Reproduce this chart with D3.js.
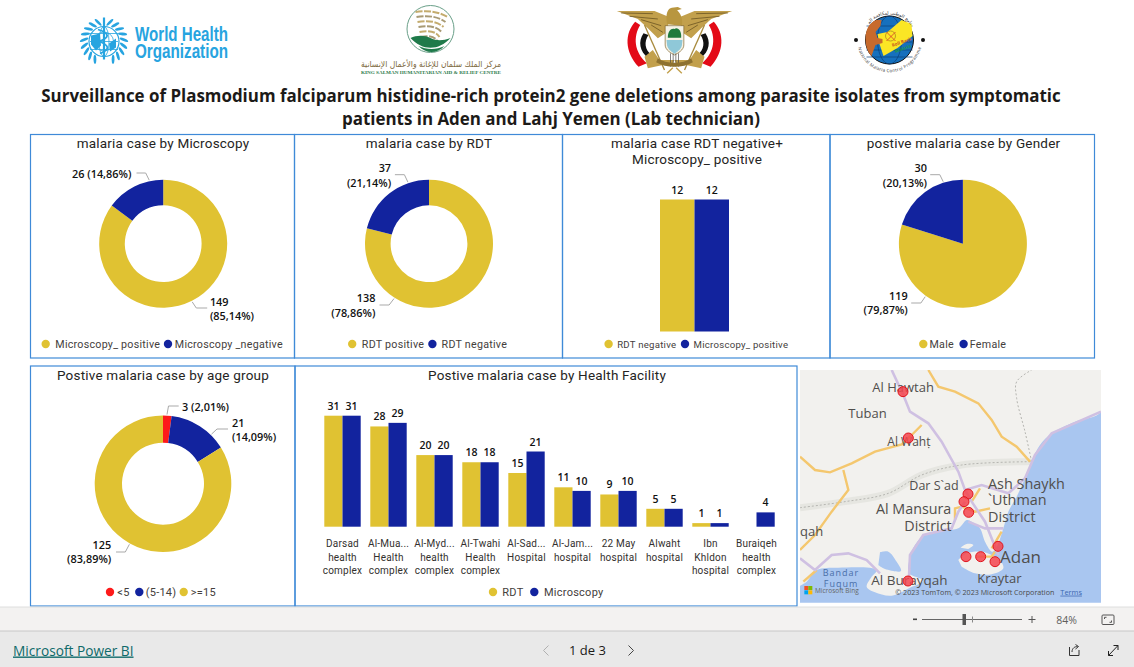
<!DOCTYPE html>
<html>
<head>
<meta charset="utf-8">
<title>Malaria dashboard</title>
<script src="https://d3js.org/d3.v7.min.js"></script>
<style>
html, body { margin: 0; padding: 0; background: #fff; overflow: hidden; }
svg { display: block; }
</style>
</head>
<body>
<svg id="report"></svg>
<script>
// values
var microscopyNames = ["Microscopy_ positive", "Microscopy _negative"];
var microscopyValues = [149, 26];
var rdtNames = ["RDT positive", "RDT negative"];
var rdtValues = [138, 37];
var discordNames = ["RDT negative", "Microscopy_ positive"];
var discordValues = [12, 12];
var genderNames = ["Male", "Female"];
var genderValues = [119, 30];
var ageNames = ["<5", "(5-14)", ">=15"];
var ageValues = [3, 21, 125];

var facilityNames = [
	["Darsad", "health", "complex"],
	["Al-Mua...", "Health", "complex"],
	["Al-Myd...", "health", "complex"],
	["Al-Twahi", "Health", "complex"],
	["Al-Sad...", "Hospital"],
	["Al-Jam...", "hospital"],
	["22 May", "hospital"],
	["Alwaht", "hospital"],
	["Ibn", "Khldon", "hospital"],
	["Buraiqeh", "health", "complex"]
];
var facilityRdt = [31, 28, 20, 18, 15, 11, 9, 5, 1, null];
var facilityMicroscopy = [31, 29, 20, 18, 21, 10, 10, 5, 1, 4];

// map features, in a 930 x 735 grid
var mapPointX = [324, 340, 519, 507, 521, 609, 513, 557, 600, 339];
var mapPointY = [80, 219, 387, 410, 442, 544, 575, 575, 590, 648];
var mapLabels = ["Al Hawtah", "Tuban", "Al Wahṭ", "Dar S`ad", "Ash Shaykh", "`Uthman", "District", "Al Mansura", "District", "qah", "Adan", "Kraytar", "Al Burayqah"];
var mapLabelX = [232, 160, 277, 343, 579, 579, 579, 243, 328, 15, 615, 547, 229];
var mapLabelY = [82, 159, 242, 376, 371, 421, 472, 446, 497, 512, 593, 654, 660];
var mapLabelSize = [13, 13, 12, 12.5, 14.4, 14.4, 14.4, 14.3, 14.3, 13, 17, 13, 13.5];

var mainland = [[15,15],[918,15],[918,140],[840,170],[770,205],[735,240],[710,290],[690,340],[665,395],[640,440],[625,490],[608,540],[592,560],[570,530],[555,490],[530,470],[515,465],[490,490],[430,497],[385,512],[355,548],[342,590],[342,625],[385,647],[345,668],[290,692],[240,682],[215,665],[228,638],[245,615],[130,608],[65,615],[35,650],[15,662]];
var saltPan = [[255,562],[280,560],[305,590],[318,618],[270,612],[250,600]];
var adenLand = [[490,585],[515,565],[560,560],[590,570],[615,585],[625,610],[590,628],[540,625],[500,605]];
var islet = [[497,548],[515,537],[535,540],[520,552]];
var yellowRoads = [
	[[400,15],[430,65],[480,80],[550,115],[590,165],[620,215],[665,245],[705,290]],
	[[15,275],[60,315],[105,322],[170,295],[240,260],[320,238],[350,210],[380,180]],
	[[145,315],[160,375],[110,440],[60,510],[15,555]],
	[[25,650],[65,615]],
	[[480,465],[480,430],[500,425],[540,440],[585,430]],
	[[530,410],[555,370]],
	[[590,550],[620,500]],
	[[545,575],[590,575],[600,560]]
];
var purpleRoads = [
	[[290,15],[325,90],[345,140],[400,175],[440,230],[490,320],[510,375],[530,410],[570,470],[610,570]],
	[[510,375],[560,360],[640,385],[690,340],[720,270],[770,205],[918,140]],
	[[15,580],[60,615],[110,570],[160,565],[215,585],[255,625]],
	[[342,635],[345,570],[385,510],[470,490],[490,440],[510,410]],
	[[520,470],[570,490],[625,490]]
];
var borderBand = [[15,428],[150,410],[280,385],[380,330],[500,300],[710,290]];
var borderNorth = [[710,290],[690,200],[665,100],[665,50],[710,15]];

var gold = "#e0c232";
var blue = "#12239e";
var red = "#fd1a1a";
var frame = "#3f8ad8";
var darkText = "#252423";
var titleFont = "Roboto, sans-serif";
var labelFont = "'Open Sans', sans-serif";

var svg = d3.select("#report").attr("width", 1134).attr("height", 667);
svg.append("rect").attr("width", 1134).attr("height", 667).attr("fill", "#fff");

function pctLabel(v, total) {
	return d3.format(".2f")(v / total * 100).replace(".", ",") + "%";
}

function addTitle(lines, cx, y) {
	lines.forEach(function(t, i) {
		svg.append("text").text(t)
			.attr("x", cx).attr("y", y + i * 16)
			.attr("text-anchor", "middle")
			.attr("font-family", titleFont)
			.attr("font-size", "13.5px")
			.attr("letter-spacing", "0.2px")
			.attr("fill", darkText);
	});
}

function addLegend(names, colors, dotX, textX, y, size) {
	names.forEach(function(n, i) {
		svg.append("circle").attr("cx", dotX[i]).attr("cy", y).attr("r", 4.2).attr("fill", colors[i]);
		svg.append("text").text(n)
			.attr("x", textX[i]).attr("y", y + 4)
			.attr("font-family", titleFont)
			.attr("font-size", (size || 10.7) + "px")
			.attr("letter-spacing", "0.25px")
			.attr("fill", "#44403c");
	});
}

function addPanel(x0, y0, x1, y1) {
	svg.append("rect").attr("x", x0).attr("y", y0)
		.attr("width", x1 - x0).attr("height", y1 - y0)
		.attr("fill", "none").attr("stroke", frame).attr("stroke-width", 1.2);
}

// label: {angle, elbow, end, x, ys, anchor}
function addDonut(values, colors, cx, cy, outer, inner, labels) {
	var total = d3.sum(values);
	var pie = d3.pie().sort(null);
	var arc = d3.arc().innerRadius(inner).outerRadius(outer);
	var g = svg.append("g").attr("transform", "translate(" + cx + "," + cy + ")");
	g.selectAll("path").data(pie(values)).enter().append("path")
		.attr("d", arc)
		.attr("fill", function(d, i) { return colors[i]; });

	values.forEach(function(v, i) {
		var l = labels[i];
		var p = d3.pointRadial(l.angle * Math.PI / 180, outer + 1);
		var pts = [[cx + p[0], cy + p[1]], l.elbow, l.end];
		svg.append("path").attr("d", d3.line()(pts))
			.attr("fill", "none").attr("stroke", "#a9a9a9").attr("stroke-width", 1);
		var pct = "(" + pctLabel(v, total) + ")";
		var lines = l.ys.length > 1 ? [String(v), pct] : [v + " " + pct];
		lines.forEach(function(t, k) {
			svg.append("text").text(t)
				.attr("x", l.x).attr("y", l.ys[k])
				.attr("text-anchor", l.anchor)
				.attr("font-family", labelFont)
				.attr("font-size", "10.9px")
				.attr("font-weight", 600)
				.attr("fill", "#111");
		});
	});
}

// header logos, plain vector stand-ins for the bitmaps
function drawWho() {
	var c = "#27a4e0";
	var g = svg.append("g").attr("transform", "translate(104,41.5)");
	g.append("circle").attr("r", 15).attr("fill", "none").attr("stroke", c).attr("stroke-width", 1.2);
	g.append("circle").attr("r", 9.5).attr("fill", "none").attr("stroke", c).attr("stroke-width", 0.8);
	g.append("ellipse").attr("rx", 5).attr("ry", 15).attr("fill", "none").attr("stroke", c).attr("stroke-width", 0.8);
	[-8, 0, 8].forEach(function(d) {
		g.append("line").attr("x1", -14).attr("x2", 14).attr("y1", d).attr("y2", d).attr("stroke", c).attr("stroke-width", 0.8);
	});
	g.append("line").attr("y1", -24).attr("y2", 18).attr("stroke", c).attr("stroke-width", 2.2);
	g.append("path").attr("d", "M-6,-12C6,-8 6,-4 -5,0C6,4 6,8 -4,12").attr("fill", "none").attr("stroke", c).attr("stroke-width", 1.8);
	g.append("path").attr("d", "M-13,-6L-4,-8L-3,4L-8,9L-13,3Z M5,2L12,-3L12,6L6,10Z").attr("fill", c);
	d3.range(-9, 10).filter(function(d) { return d !== 0; }).forEach(function(d) {
		var a = d * 17;
		g.append("ellipse").attr("rx", 1.4).attr("ry", 4.6)
			.attr("transform", "rotate(" + (a + 180) + ") translate(0,20) rotate(" + (d > 0 ? 28 : -28) + ")")
			.attr("fill", c);
	});
	[["World Health", 40.5], ["Organization", 57.5]].forEach(function(r) {
		svg.append("text").text(r[0]).attr("x", 135).attr("y", r[1])
			.attr("font-family", "'Liberation Sans Narrow', 'Liberation Sans', sans-serif")
			.attr("font-weight", 700).attr("font-size", "20px")
			.attr("textLength", 93).attr("lengthAdjust", "spacingAndGlyphs")
			.attr("fill", c);
	});
}

function drawKing() {
	var g = svg.append("g").attr("transform", "translate(430.5,29)");
	g.append("circle").attr("r", 23.5).attr("fill", "#fff").attr("stroke", "#6aa089").attr("stroke-width", 1);
	[-17, -12, -7, -2, 3, 8].forEach(function(y, i) {
		g.append("path")
			.attr("d", "M" + (-15 + i) + "," + y + "Q4," + (y - 3) + " " + (17 - i * 2) + "," + (y + 5))
			.attr("fill", "none").attr("stroke", i % 2 ? "#a89a74" : "#c4ac6e")
			.attr("stroke-width", 2).attr("stroke-dasharray", "7 1.5");
	});
	g.append("path").attr("d", "M-20,9C-8,22 8,22 20,9C12,12 6,12 0,9C-6,6 -14,6 -20,9Z M-12,17C-4,25 6,25 14,17C6,21 -4,21 -12,17Z").attr("fill", "#1f7a4a");
	svg.append("text").text("مركز الملك سلمان للإغاثة والأعمال الإنسانية")
		.attr("x", 431).attr("y", 66.5).attr("text-anchor", "middle")
		.attr("font-family", "'DejaVu Sans', sans-serif").attr("font-size", "8.5px")
		.attr("textLength", 140).attr("lengthAdjust", "spacingAndGlyphs")
		.attr("fill", "#7d6a3e");
	svg.append("text").text("KING SALMAN HUMANITARIAN AID & RELIEF CENTRE")
		.attr("x", 431).attr("y", 73.5).attr("text-anchor", "middle")
		.attr("font-family", "'Liberation Serif', serif").attr("font-size", "4.6px").attr("font-weight", 700)
		.attr("textLength", 140).attr("lengthAdjust", "spacingAndGlyphs")
		.attr("fill", "#2b7a4b");
}

function drawEagle() {
	var g = svg.append("g").attr("transform", "translate(674.5,5) scale(0.3333)");
	[-1, 1].forEach(function(s) {
		var w = g.append("g").attr("transform", "scale(" + s + ",1)");
		w.append("path").attr("d", "M118,50C150,85 150,140 108,185L83,175C122,140 124,95 103,60Z").attr("fill", "#e30a17");
		w.append("path").attr("d", "M93,85C110,110 105,140 78,160L68,150C90,135 92,110 78,90Z").attr("fill", "#111");
		w.append("path").attr("d", "M173,18L60,18L18,35L20,80L50,100L80,70L110,42Z").attr("fill", "#c2a04c");
		w.append("path").attr("d", "M160,24L65,26M135,34L50,42M100,44L40,62M70,60L35,82").attr("stroke", "#6f5823").attr("stroke-width", 2.5);
		w.append("line").attr("x1", 90).attr("y1", 60).attr("x2", 30).attr("y2", 195).attr("stroke", "#a88a3c").attr("stroke-width", 4);
		w.append("path").attr("d", "M65,135L90,155L80,190L35,180L5,175L0,165L45,165Z").attr("fill", "#c2a04c");
	});
	g.append("path").attr("d", "M-22,58C-28,25 -20,10 -8,8L10,6L22,12L8,16C22,30 25,45 22,62Z").attr("fill", "#b8963f");
	g.append("path").attr("d", "M-28,62L28,62L28,120C28,135 10,145 0,150C-10,145 -28,135 -28,120Z").attr("fill", "#f4f1e4").attr("stroke", "#7b6128").attr("stroke-width", 2);
	g.append("path").attr("d", "M-20,98C-20,75 -8,68 0,72C10,65 22,78 20,98Z").attr("fill", "#1f7a3c");
	g.append("path").attr("d", "M-24,105L24,105L22,122C18,135 8,140 0,146C-8,140 -18,135 -22,122Z").attr("fill", "#8fc8d8");
	d3.range(-12, 13, 8).forEach(function(d) {
		g.append("line").attr("x1", d).attr("x2", d).attr("y1", 145).attr("y2", 185).attr("stroke", "#444").attr("stroke-width", 2);
	});
	g.append("path").attr("d", "M-5,188L-22,205M5,188L22,205").attr("stroke", "#c2a04c").attr("stroke-width", 4);
	g.append("path").attr("d", "M-50,160C-25,178 25,178 50,160L55,172C25,190 -25,190 -55,172Z").attr("fill", "#8e7230");
}

function drawMalariaLogo() {
	var cx = 889.5, cy = 40;
	var g = svg.append("g").attr("transform", "translate(" + cx + "," + cy + ")");
	g.append("circle").attr("r", 24).attr("fill", "#1670bd").attr("stroke", "#111").attr("stroke-width", 1);
	g.append("ellipse").attr("rx", 12).attr("ry", 24).attr("fill", "none").attr("stroke", "#0a3f7a").attr("stroke-width", 0.7);
	[-14, -6, 2, 10, 17].forEach(function(d) {
		g.append("line").attr("x1", -23).attr("x2", 23).attr("y1", d).attr("y2", d).attr("stroke", "#0a3f7a").attr("stroke-width", 0.7);
	});
	g.append("path").attr("d", "M-12,-6L-2,-8L12,-20L22,-16L23,-4L8,8L-6,16L-10,4Z").attr("fill", "#fbe625");
	g.append("path").attr("d", "M-24,-2C-24,-14 -16,-22 -8,-20L-9,-14L-14,-8L-12,-2L-7,-1L-7,3L-14,5L-18,16C-22,12 -24,6 -24,-2Z").attr("fill", "#c76a2c");
	g.append("circle").attr("cx", 1).attr("cy", -4).attr("r", 5).attr("fill", "none").attr("stroke", "#b38a1e").attr("stroke-width", 0.8);
	g.append("path").attr("d", "M-3,-8L6,1M6,-8L-3,1").attr("stroke", "#d8382a").attr("stroke-width", 0.8);
	g.append("text").text("Roll Back").attr("x", 3).attr("y", 7).attr("font-size", "4.5px").attr("font-weight", 700)
		.attr("font-family", labelFont).attr("fill", "#c8541e").attr("transform", "rotate(-20 3 7)");
	g.append("text").text("Malaria").attr("x", 6).attr("y", 13).attr("font-size", "4.5px").attr("font-weight", 700)
		.attr("font-family", labelFont).attr("fill", "#1f9a48").attr("transform", "rotate(-20 6 13)");
	[-33.5, 33.5].forEach(function(x) {
		g.append("circle").attr("cx", x).attr("r", 2).attr("fill", "#111");
	});
	g.append("path").attr("id", "nmcpRing").attr("d", "M-28,5A28.5,28.5 0 0 0 28,5").attr("fill", "none");
	g.append("text").attr("font-size", "4.4px").attr("font-family", labelFont).attr("fill", "#333")
		.append("textPath").attr("href", "#nmcpRing").attr("startOffset", "50%").attr("text-anchor", "middle")
		.attr("dominant-baseline", "hanging")
		.text("National Malaria Control Programme");
	g.append("path").attr("id", "nmcpTop").attr("d", "M-21,-15A26,26 0 0 1 21,-15").attr("fill", "none");
	g.append("text").attr("font-size", "4.6px").attr("font-family", "'DejaVu Sans', sans-serif").attr("fill", "#333")
		.append("textPath").attr("href", "#nmcpTop").attr("startOffset", "50%").attr("text-anchor", "middle")
		.text("البرنامج الوطني لمكافحة الملاريا");
}

drawWho();
drawKing();
drawEagle();
drawMalariaLogo();

// report title
["Surveillance of Plasmodium falciparum histidine-rich protein2 gene deletions among parasite isolates from symptomatic",
 "patients in Aden and Lahj Yemen (Lab technician)"].forEach(function(t, i) {
	svg.append("text").text(t)
		.attr("x", 551).attr("y", 102 + i * 22.5)
		.attr("text-anchor", "middle")
		.attr("font-family", labelFont)
		.attr("font-weight", 700)
		.attr("font-size", "16.93px")
		.attr("fill", "#1c1a18");
});

// top row
addPanel(30.5, 134.5, 294.5, 358);
addPanel(294.5, 134.5, 562.5, 358);
addPanel(562.5, 134.5, 830, 358);
addPanel(830, 134.5, 1094.5, 358);

addTitle(["malaria case by Microscopy"], 163, 148);
addDonut(microscopyValues, [gold, blue], 163.2, 243.7, 64, 38.4, [
	{ angle: 153.5, elbow: [196.3, 308], end: [207.2, 308], x: 209.9, ys: [305.7, 319.7], anchor: "start" },
	{ angle: -12.4, elbow: [145.7, 173], end: [136.5, 173], x: 131.4, ys: [178], anchor: "end" }
]);
addLegend(microscopyNames, [gold, blue], [45.7, 168], [55.3, 174.8], 344);

addTitle(["malaria case by RDT"], 429, 148);
addDonut(rdtValues, [gold, blue], 429, 243.7, 64, 38.4, [
	{ angle: 212.5, elbow: [389.1, 305], end: [379.5, 305], x: 375.4, ys: [302, 317], anchor: "end" },
	{ angle: -18.9, elbow: [404.4, 174.7], end: [394.9, 174.7], x: 391.1, ys: [172, 187], anchor: "end" }
]);
addLegend(rdtNames, [gold, blue], [352.2, 432.4], [361.8, 441.6], 344);

addTitle(["malaria case RDT negative+", "Microscopy_ positive"], 697, 148);
var discordX = d3.scaleBand().domain(discordNames).range([660, 729]);
var discordY = d3.scaleLinear().domain([0, 12]).range([331.5, 199.5]);
svg.selectAll("rect.discord").data(discordValues).enter().append("rect")
	.attr("class", "discord")
	.attr("x", function(d, i) { return discordX(discordNames[i]); })
	.attr("y", function(d) { return discordY(d); })
	.attr("width", discordX.bandwidth())
	.attr("height", function(d) { return discordY(0) - discordY(d); })
	.attr("fill", function(d, i) { return [gold, blue][i]; });
svg.selectAll("text.discord").data(discordValues).enter().append("text")
	.attr("class", "discord").text(function(d) { return d; })
	.attr("x", function(d, i) { return discordX(discordNames[i]) + discordX.bandwidth() / 2; })
	.attr("y", function(d) { return discordY(d) - 6; })
	.attr("text-anchor", "middle")
	.attr("font-family", labelFont).attr("font-size", "10.5px").attr("font-weight", 600).attr("fill", "#111");
addLegend(discordNames, [gold, blue], [608.6, 685], [617.2, 693.6], 344, 9.6);

addTitle(["postive malaria case by Gender"], 963.5, 148);
addDonut(genderValues, [gold, blue], 962.9, 243.7, 64, 0, [
	{ angle: 215.4, elbow: [920.9, 303], end: [911.2, 303], x: 907.8, ys: [299.7, 314], anchor: "end" },
	{ angle: -17.6, elbow: [939.8, 174.7], end: [930.2, 174.7], x: 927, ys: [172, 187], anchor: "end" }
]);
addLegend(genderNames, [gold, blue], [923.3, 963.6], [929.5, 969.8], 344);

// bottom row
addPanel(30.5, 366, 295, 606);
addPanel(295, 366, 797, 606);

addTitle(["Postive malaria case by age group"], 163, 380);
addDonut(ageValues, [red, blue, gold], 163, 483.7, 68.3, 41, [
	{ angle: 3.3, elbow: [168.5, 406], end: [178.7, 406], x: 182, ys: [410.7], anchor: "start" },
	{ angle: 44.4, elbow: [217, 429], end: [228, 429], x: 232, ys: [427, 440.7], anchor: "start" },
	{ angle: 209, elbow: [125.3, 552], end: [116, 552], x: 111.3, ys: [548.7, 563], anchor: "end" }
]);
addLegend(ageNames, [red, blue, gold], [110, 139.3, 183.7], [117.3, 145.7, 190.7], 592, 11);

addTitle(["Postive malaria case by Health Facility"], 547, 380);

var facilityIndex = d3.range(facilityNames.length);
var facX = d3.scaleBand().domain(facilityIndex).range([319.5, 779.5]);
var seriesX = d3.scaleBand().domain(["RDT", "Microscopy"]).range([4.8, 41.2]);
var facY = d3.scaleLinear().domain([0, 31]).range([526.7, 415.7]);

[["RDT", facilityRdt, gold], ["Microscopy", facilityMicroscopy, blue]].forEach(function(s) {
	var g = svg.append("g");
	var rows = facilityIndex.filter(function(i) { return s[1][i] !== null; });
	g.selectAll("rect").data(rows).enter().append("rect")
		.attr("x", function(i) { return facX(i) + seriesX(s[0]); })
		.attr("y", function(i) { return facY(s[1][i]); })
		.attr("width", seriesX.bandwidth())
		.attr("height", function(i) { return facY(0) - facY(s[1][i]); })
		.attr("fill", s[2]);
	g.selectAll("text").data(rows).enter().append("text")
		.text(function(i) { return s[1][i]; })
		.attr("x", function(i) { return facX(i) + seriesX(s[0]) + seriesX.bandwidth() / 2; })
		.attr("y", function(i) { return facY(s[1][i]) - 6; })
		.attr("text-anchor", "middle")
		.attr("font-family", labelFont).attr("font-size", "10.5px").attr("font-weight", 600).attr("fill", "#111");
});

facilityNames.forEach(function(lines, i) {
	lines.forEach(function(t, k) {
		svg.append("text").text(t)
			.attr("x", facX(i) + facX.bandwidth() / 2).attr("y", 547 + k * 13.7)
			.attr("text-anchor", "middle")
			.attr("font-family", titleFont).attr("font-size", "10px")
			.attr("letter-spacing", "0.2px")
			.attr("fill", "#33302e");
	});
});
addLegend(["RDT", "Microscopy"], [gold, blue], [493, 534.3], [502.3, 544], 592, 11);

// map tile
var mapX = d3.scaleLinear().domain([0, 930]).range([795, 1105]);
var mapY = d3.scaleLinear().domain([0, 735]).range([365, 610]);
var mapLine = d3.line().x(function(d) { return mapX(d[0]); }).y(function(d) { return mapY(d[1]); });
var mapCurve = d3.line().x(function(d) { return mapX(d[0]); }).y(function(d) { return mapY(d[1]); }).curve(d3.curveCatmullRom);

svg.append("clipPath").attr("id", "mapClip").append("rect")
	.attr("x", mapX(15)).attr("y", mapY(15))
	.attr("width", mapX(918) - mapX(15)).attr("height", mapY(713) - mapY(15));
var map = svg.append("g").attr("clip-path", "url(#mapClip)");
map.append("rect").attr("x", mapX(15)).attr("y", mapY(15)).attr("width", 301).attr("height", 233).attr("fill", "#a9c6f0");
map.append("path").attr("d", mapCurve(mainland) + "Z").attr("fill", "#f2f1ee");
map.append("path").attr("d", mapCurve(saltPan) + "Z").attr("fill", "#a9c6f0");
map.append("path").attr("d", mapCurve(adenLand) + "Z").attr("fill", "#f2f1ee");
map.append("path").attr("d", mapCurve(islet) + "Z").attr("fill", "#f2f1ee");
map.append("path").attr("d", mapCurve(borderBand)).attr("fill", "none").attr("stroke", "#e6e6e1").attr("stroke-width", 7);
map.append("path").attr("d", mapCurve(borderBand)).attr("fill", "none").attr("stroke", "#b5b5b0").attr("stroke-width", 1).attr("stroke-dasharray", "2 2");
map.append("path").attr("d", mapCurve(borderNorth)).attr("fill", "none").attr("stroke", "#b5b5b0").attr("stroke-width", 1).attr("stroke-dasharray", "2 2");
yellowRoads.forEach(function(r) {
	map.append("path").attr("d", mapLine(r)).attr("fill", "none").attr("stroke", "#f4c76e").attr("stroke-width", 2.4);
});
purpleRoads.forEach(function(r) {
	map.append("path").attr("d", mapLine(r)).attr("fill", "none").attr("stroke", "#cfc0e2").attr("stroke-width", 2.6);
});
map.selectAll("text.place").data(mapLabels).enter().append("text")
	.attr("class", "place").text(function(d) { return d; })
	.attr("x", function(d, i) { return mapX(mapLabelX[i]); })
	.attr("y", function(d, i) { return mapY(mapLabelY[i]); })
	.attr("font-family", labelFont)
	.attr("font-size", function(d, i) { return mapLabelSize[i] + "px"; })
	.attr("fill", "#504e4c");
["Bandar", "Fuqum"].forEach(function(t, i) {
	map.append("text").text(t).attr("x", mapX(138)).attr("y", mapY(634 + i * 32))
		.attr("text-anchor", "middle").attr("font-family", labelFont).attr("font-size", "9px")
		.attr("letter-spacing", "1px").attr("fill", "#4a6fa8");
});
map.selectAll("circle").data(mapPointX).enter().append("circle")
	.attr("cx", function(d) { return mapX(d); })
	.attr("cy", function(d, i) { return mapY(mapPointY[i]); })
	.attr("r", 5)
	.attr("fill", "#f5444e").attr("fill-opacity", 0.85)
	.attr("stroke", "#e0161e").attr("stroke-width", 1);
[["#f25022", 28, 663], ["#7fba00", 40, 663], ["#00a4ef", 28, 676], ["#ffb900", 40, 676]].forEach(function(q) {
	map.append("rect").attr("x", mapX(q[1])).attr("y", mapY(q[2])).attr("width", 4).attr("height", 4).attr("fill", q[0]);
});
map.append("text").text("Microsoft Bing").attr("x", mapX(60)).attr("y", mapY(684))
	.attr("font-family", labelFont).attr("font-size", "6.5px").attr("fill", "#666");
map.append("text").text("© 2023 TomTom, © 2023 Microsoft Corporation").attr("x", mapX(301)).attr("y", mapY(689))
	.attr("font-family", labelFont).attr("font-size", "7.15px").attr("fill", "#4a4a4a");
map.append("text").text("Terms").attr("x", mapX(796)).attr("y", mapY(689))
	.attr("font-family", labelFont).attr("font-size", "7.4px").attr("fill", "#3a66b0").attr("text-decoration", "underline");

// viewer chrome
svg.append("rect").attr("y", 607).attr("width", 1134).attr("height", 24).attr("fill", "#f3f2f1");
svg.append("rect").attr("y", 631).attr("width", 1134).attr("height", 36).attr("fill", "#e9e9e9");
svg.append("line").attr("x1", 0).attr("x2", 1134).attr("y1", 607).attr("y2", 607).attr("stroke", "#dedede");
svg.append("line").attr("x1", 0).attr("x2", 1134).attr("y1", 631).attr("y2", 631).attr("stroke", "#c8c8c8");

svg.append("rect").attr("x", 913).attr("y", 618.5).attr("width", 4).attr("height", 1.6).attr("fill", "#444");
svg.append("line").attr("x1", 922).attr("x2", 1022).attr("y1", 619.5).attr("y2", 619.5).attr("stroke", "#666").attr("stroke-width", 1);
svg.append("rect").attr("x", 962.5).attr("y", 614).attr("width", 3.5).attr("height", 11).attr("fill", "#555");
svg.append("line").attr("x1", 972.5).attr("x2", 972.5).attr("y1", 616.5).attr("y2", 622.5).attr("stroke", "#888");
svg.append("path").attr("d", "M1028.5,619.5H1035.5M1032,616V623").attr("stroke", "#555").attr("stroke-width", 1);
svg.append("text").text("84%").attr("x", 1066.5).attr("y", 623.5).attr("text-anchor", "middle")
	.attr("font-family", labelFont).attr("font-size", "10.5px").attr("fill", "#605e5c");
svg.append("rect").attr("x", 1102).attr("y", 615).attr("width", 12).attr("height", 9.5).attr("rx", 1).attr("fill", "none").attr("stroke", "#555");
svg.append("path").attr("d", "M1104.5,619V617.3H1106.5M1111.5,620.5V622.3H1109.5").attr("fill", "none").attr("stroke", "#555");

svg.append("text").text("Microsoft Power BI").attr("x", 13).attr("y", 655.5)
	.attr("font-family", labelFont).attr("font-size", "13.7px")
	.attr("text-decoration", "underline").attr("fill", "#0e6a6a");
svg.append("text").text("1 de 3").attr("x", 587.5).attr("y", 655)
	.attr("text-anchor", "middle").attr("font-family", labelFont).attr("font-size", "13px").attr("fill", "#1c1a18");
svg.append("path").attr("d", "M548.5,645.5L543.5,650.5L548.5,655.5").attr("fill", "none").attr("stroke", "#b0b0b0");
svg.append("path").attr("d", "M628.5,645.5L633.5,650.5L628.5,655.5").attr("fill", "none").attr("stroke", "#444");
svg.append("path").attr("d", "M1069.5,647V655.5H1079V650M1072,652C1072,648 1075,646.5 1077.5,646.5M1075.5,644.5L1078.5,646.5L1075.5,649").attr("fill", "none").attr("stroke", "#333");
svg.append("path").attr("d", "M1108.5,655.5L1118,645.5M1113.5,645.5H1118V650M1108.5,651V655.5H1113").attr("fill", "none").attr("stroke", "#222");
</script>
</body>
</html>
